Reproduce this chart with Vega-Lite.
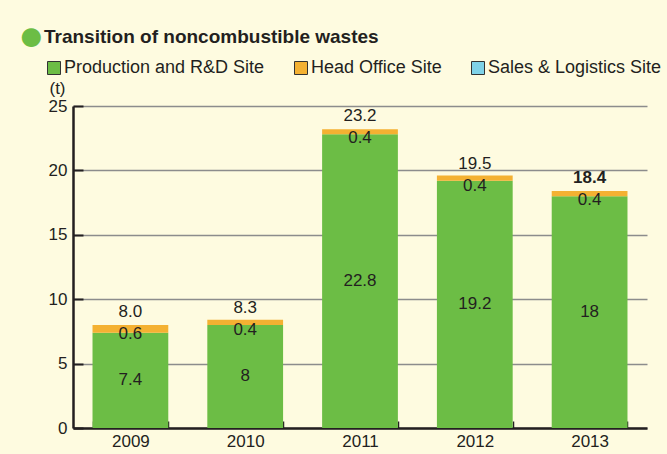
{
  "$schema": "https://vega.github.io/schema/vega-lite/v6.json",
  "width": 574,
  "height": 322,
  "autosize": {"type": "none"},
  "padding": {"left": 73, "top": 106, "right": 20, "bottom": 26},
  "background": "#fefbe0",
  "title": {
    "text": "Transition of noncombustible wastes",
    "anchor": "start",
    "frame": "group",
    "dx": -29,
    "dy": 36,
    "fontSize": 19,
    "font": "Liberation Sans",
    "fontWeight": "bold",
    "color": "#231f20"
  },
  "config": {
    "view": {"stroke": null},
    "font": "Liberation Sans",
    "text": {"font": "Liberation Sans", "fontSize": 17, "color": "#231f20"}
  },
  "datasets": {
    "waste": [
      {"year": "2009", "Production and R&D Site": 7.4, "Head Office Site": 0.6, "Sales & Logistics Site": 0, "total": 8.0},
      {"year": "2010", "Production and R&D Site": 8, "Head Office Site": 0.4, "Sales & Logistics Site": 0, "total": 8.3},
      {"year": "2011", "Production and R&D Site": 22.8, "Head Office Site": 0.4, "Sales & Logistics Site": 0, "total": 23.2},
      {"year": "2012", "Production and R&D Site": 19.2, "Head Office Site": 0.4, "Sales & Logistics Site": 0, "total": 19.5},
      {"year": "2013", "Production and R&D Site": 18, "Head Office Site": 0.4, "Sales & Logistics Site": 0, "total": 18.4}
    ]
  },
  "data": {"name": "waste"},
  "encoding": {
    "x": {
      "field": "year",
      "type": "nominal",
      "scale": {"paddingInner": 0.34, "paddingOuter": 0.17},
      "axis": {
        "title": null,
        "labelAngle": 0,
        "labelFontSize": 17,
        "labelColor": "#231f20",
        "labelFont": "Liberation Sans",
        "labelPadding": 12,
        "tickBand": "extent",
        "tickSize": -7,
        "tickColor": "#231f20",
        "tickWidth": 1.5,
        "domainColor": "#231f20",
        "domainWidth": 2.5
      }
    }
  },
  "layer": [
    {
      "transform": [
        {"fold": ["Production and R&D Site", "Head Office Site", "Sales & Logistics Site"], "as": ["site", "value"]}
      ],
      "mark": {"type": "bar"},
      "encoding": {
        "y": {
          "field": "value",
          "type": "quantitative",
          "stack": "zero",
          "scale": {"domain": [0, 25], "nice": false},
          "axis": {
            "values": [0, 5, 10, 15, 20, 25],
            "title": "(t)",
            "titleAngle": 0,
            "titleAlign": "center",
            "titleBaseline": "middle",
            "titleX": -16,
            "titleY": -18,
            "titleFont": "Liberation Sans",
            "titleFontSize": 17,
            "titleFontWeight": "normal",
            "titleColor": "#231f20",
            "labelFontSize": 17,
            "labelColor": "#231f20",
            "labelFont": "Liberation Sans",
            "labelPadding": 16,
            "tickSize": -10,
            "tickColor": "#231f20",
            "tickWidth": 2,
            "domainColor": "#231f20",
            "domainWidth": 2.5,
            "grid": true,
            "gridColor": "#8c8c8c",
            "gridWidth": 1.5
          }
        },
        "color": {
          "field": "site",
          "type": "nominal",
          "sort": ["Production and R&D Site", "Head Office Site", "Sales & Logistics Site"],
          "scale": {
            "domain": ["Production and R&D Site", "Head Office Site", "Sales & Logistics Site"],
            "range": ["#6cbd45", "#f4b132", "#7fd2e8"]
          },
          "legend": {
            "title": "●",
            "titleColor": "#6cbd45",
            "titleFontSize": 44,
            "titlePadding": 0,
            "orient": "none",
            "legendX": -55,
            "legendY": -91,
            "direction": "horizontal",
            "symbolType": "square",
            "symbolSize": 169,
            "symbolStrokeColor": "#333333",
            "symbolStrokeWidth": 1,
            "symbolOpacity": 1,
            "symbolOffset": 27,
            "labelFont": "Liberation Sans",
            "labelFontSize": 18,
            "labelLimit": 400,
            "labelColor": "#231f20",
            "labelOffset": 1,
            "columnPadding": -10
          }
        }
      }
    },
    {
      "transform": [{"calculate": "datum['Production and R&D Site'] / 2", "as": "mid"}],
      "mark": {"type": "text", "baseline": "middle"},
      "encoding": {
        "y": {"field": "mid", "type": "quantitative"},
        "text": {"field": "Production and R&D Site", "type": "quantitative"}
      }
    },
    {
      "mark": {"type": "text", "baseline": "top", "dy": 1},
      "encoding": {
        "y": {"field": "total", "type": "quantitative"},
        "text": {"field": "Head Office Site", "type": "quantitative", "format": ".1f"}
      }
    },
    {
      "transform": [{"filter": "datum.year !== '2013'"}],
      "mark": {"type": "text", "baseline": "bottom", "dy": -4},
      "encoding": {
        "y": {"field": "total", "type": "quantitative"},
        "text": {"field": "total", "type": "quantitative", "format": ".1f"}
      }
    },
    {
      "transform": [{"filter": "datum.year === '2013'"}],
      "mark": {"type": "text", "baseline": "bottom", "dy": -4, "fontWeight": "bold"},
      "encoding": {
        "y": {"field": "total", "type": "quantitative"},
        "text": {"field": "total", "type": "quantitative", "format": ".1f"}
      }
    }
  ]
}
